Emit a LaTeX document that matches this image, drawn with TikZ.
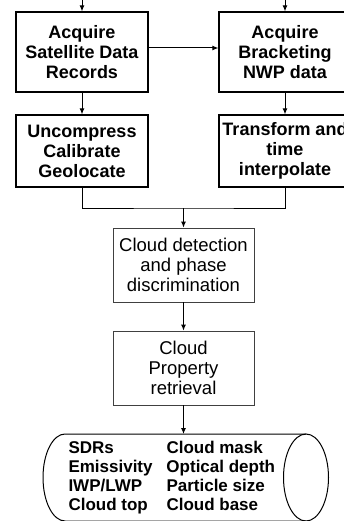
\documentclass[tikz,border=0pt]{standalone}
\usepackage{fontspec}
\setmainfont{Liberation Sans}
\usetikzlibrary{arrows.meta}
\tikzset{
  inbox/.style={draw,line width=1.2pt,minimum width=132pt,minimum height=80pt,
    inner sep=1pt,align=center,font=\bfseries\fontsize{18}{20}\selectfont},
  stepbox/.style={draw=black!75,line width=0.8pt,minimum width=141pt,minimum height=74pt,
    inner sep=1pt,align=center,font=\fontsize{18.5}{20}\selectfont},
}
\begin{document}
\begin{tikzpicture}[x=1pt,y=-1pt,>={Latex[length=6pt,width=5pt]},line width=1pt]
\useasboundingbox (0,0) rectangle (343,521);
% input boxes
\node[inbox] (sdr) at (82,52) {Acquire\\Satellite Data\\Records};
\node[inbox] (nwp) at (285,52) {Acquire\\Bracketing\\NWP data};
\node[inbox,minimum height=72pt] (cal) at (82,151) {Uncompress\\Calibrate\\Geolocate};
\node[inbox,minimum height=72pt] (tra) at (285,151) {Transform and\\time\\interpolate};
% processing
\node[stepbox] (det) at (183.5,265) {Cloud detection\\and phase\\discrimination};
\node[stepbox] (ret) at (183.5,368) {Cloud\\Property\\retrieval};
% output store
\draw (306,434) -- (65,434) arc[start angle=90,end angle=270,x radius=22pt,y radius=43.5pt] -- (306,521);
\draw (306,477.5) ellipse [x radius=22.5pt,y radius=43.5pt];
\coordinate (cyltop) at (183.5,434);
\node[anchor=west,inner sep=0pt,font=\bfseries\fontsize{17}{19}\selectfont] (prods) at (68,477.7)
  {\begin{tabular}{@{}p{98pt}@{}l@{}}
   SDRs & Cloud mask\\
   Emissivity & Optical depth\\
   IWP/LWP & Particle size\\
   Cloud top & Cloud base
   \end{tabular}};
\coordinate (src1) at (82,0);
\coordinate (src2) at (285,0);
\coordinate (join) at (183.5,208);
\draw[->] (src1) -- (sdr);
\draw[->] (src2) -- (nwp);
\draw[->] ([yshift=4pt]sdr.east) -- ([yshift=4pt]nwp.west);
\draw[->] (sdr) -- (cal);
\draw[->] (nwp) -- (tra);
\draw (cal.south) |- (join) -| (tra.south);
\draw[->] (join) -- (det);
\draw[->] (det) -- (ret);
\draw[->] (ret) -- (cyltop);
\end{tikzpicture}
\end{document}
